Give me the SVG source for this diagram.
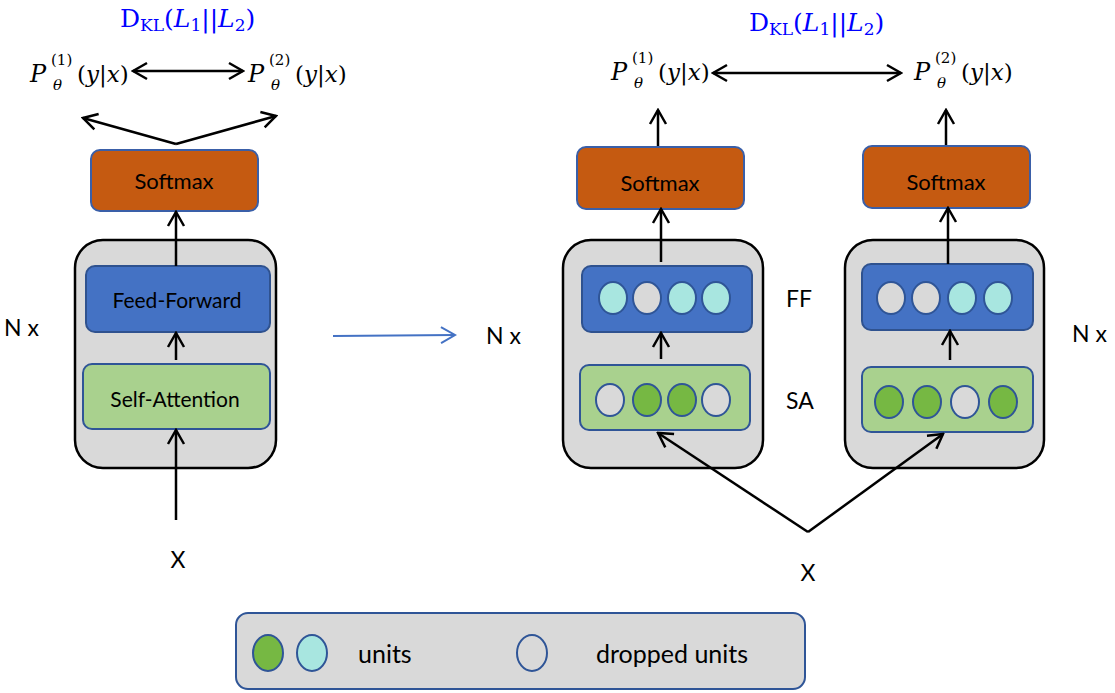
<svg xmlns="http://www.w3.org/2000/svg" width="1115" height="693" viewBox="0 0 1115 693">
<defs>
<marker id="ah" viewBox="0 0 20 20" refX="18" refY="10" markerWidth="20" markerHeight="20" markerUnits="userSpaceOnUse" orient="auto-start-reverse">
<path d="M4,2 L18,10 L4,18" fill="none" stroke="#000" stroke-width="2.5"/>
</marker>
<marker id="ahb" viewBox="0 0 20 20" refX="18" refY="10" markerWidth="20" markerHeight="20" markerUnits="userSpaceOnUse" orient="auto">
<path d="M4,2 L18,10 L4,18" fill="none" stroke="#4472C4" stroke-width="2"/>
</marker>
</defs>
<style>
.outer{fill:#D9D9D9;stroke:#000;stroke-width:2.5}
.sm{fill:#C55A11;stroke:#3A5FA8;stroke-width:2}
.ff{fill:#4472C4;stroke:#2F528F;stroke-width:2}
.sa{fill:#A9D18E;stroke:#2F5597;stroke-width:2}
.u{stroke:#2F5597;stroke-width:2}
.g{fill:#76B843}
.c{fill:#A8E6E0}
.d{fill:#D9D9D9}
.lbl{font-family:Lato,"Liberation Sans",sans-serif;fill:#000}
.m{font-family:"DejaVu Serif",serif;fill:#000}
.i{font-style:italic}
.bl{fill:#0000FF}
.ln{stroke:#000;stroke-width:2.5;fill:none}
</style>

<g id="math-left">
<text class="m i" x="30" y="82" font-size="24">P</text>
<text class="m" x="51" y="65" font-size="15">(1)</text>
<text class="m i" x="53" y="90" font-size="15">θ</text>
<text class="m" x="77" y="82" font-size="23">(<tspan class="i">y</tspan>|<tspan class="i">x</tspan>)</text>
<text class="m i" x="248" y="82" font-size="24">P</text>
<text class="m" x="269" y="65" font-size="15">(2)</text>
<text class="m i" x="271" y="90" font-size="15">θ</text>
<text class="m" x="295" y="82" font-size="23">(<tspan class="i">y</tspan>|<tspan class="i">x</tspan>)</text>
<text class="m bl" x="120" y="27" font-size="25">D<tspan font-size="17" dy="4">KL</tspan><tspan dy="-4">(</tspan><tspan class="i">L</tspan><tspan font-size="17" dy="4">1</tspan><tspan dy="-4">||</tspan><tspan class="i">L</tspan><tspan font-size="17" dy="4">2</tspan><tspan dy="-4">)</tspan></text>
</g>

<g id="math-right">
<text class="m i" x="611" y="80" font-size="24">P</text>
<text class="m" x="632" y="63" font-size="15">(1)</text>
<text class="m i" x="634" y="88" font-size="15">θ</text>
<text class="m" x="658" y="80" font-size="23">(<tspan class="i">y</tspan>|<tspan class="i">x</tspan>)</text>
<text class="m i" x="914" y="80" font-size="24">P</text>
<text class="m" x="935" y="63" font-size="15">(2)</text>
<text class="m i" x="937" y="88" font-size="15">θ</text>
<text class="m" x="961" y="80" font-size="23">(<tspan class="i">y</tspan>|<tspan class="i">x</tspan>)</text>
<text class="m bl" x="749" y="31" font-size="25">D<tspan font-size="17" dy="4">KL</tspan><tspan dy="-4">(</tspan><tspan class="i">L</tspan><tspan font-size="17" dy="4">1</tspan><tspan dy="-4">||</tspan><tspan class="i">L</tspan><tspan font-size="17" dy="4">2</tspan><tspan dy="-4">)</tspan></text>
</g>

<g id="left-model">
<rect class="sm" x="91" y="150" width="167" height="61" rx="9"/>
<text class="lbl" x="174" y="189" font-size="22" text-anchor="middle">Softmax</text>
<rect class="outer" x="75" y="240" width="201" height="228" rx="28"/>
<rect class="ff" x="86" y="266" width="184" height="66" rx="9"/>
<text class="lbl" x="177" y="308" font-size="21" text-anchor="middle">Feed-Forward</text>
<rect class="sa" x="83" y="364" width="187" height="65" rx="9"/>
<text class="lbl" x="175" y="407" font-size="21" text-anchor="middle">Self-Attention</text>
</g>

<g id="col1">
<rect class="sm" x="577" y="147" width="167" height="62" rx="9"/>
<text class="lbl" x="660" y="191" font-size="22" text-anchor="middle">Softmax</text>
<rect class="outer" x="563" y="240" width="200" height="228" rx="28"/>
<rect class="ff" x="582" y="266" width="170" height="66" rx="9"/>
<ellipse class="u c" cx="613" cy="298" rx="14" ry="16"/>
<ellipse class="u d" cx="647" cy="298" rx="14" ry="16"/>
<ellipse class="u c" cx="682" cy="298" rx="14" ry="16"/>
<ellipse class="u c" cx="716" cy="298" rx="14" ry="16"/>
<rect class="sa" x="580" y="365" width="170" height="65" rx="9"/>
<ellipse class="u d" cx="610" cy="400" rx="14" ry="16"/>
<ellipse class="u g" cx="647" cy="400" rx="14" ry="16"/>
<ellipse class="u g" cx="682" cy="400" rx="14" ry="16"/>
<ellipse class="u d" cx="716" cy="400" rx="14" ry="16"/>
</g>

<g id="col2">
<rect class="sm" x="863" y="146" width="167" height="62" rx="9"/>
<text class="lbl" x="946" y="190" font-size="22" text-anchor="middle">Softmax</text>
<rect class="outer" x="845" y="240" width="199" height="228" rx="28"/>
<rect class="ff" x="862" y="264" width="171" height="66" rx="9"/>
<ellipse class="u d" cx="891" cy="298" rx="14" ry="16"/>
<ellipse class="u d" cx="926" cy="298" rx="14" ry="16"/>
<ellipse class="u c" cx="962" cy="298" rx="14" ry="16"/>
<ellipse class="u c" cx="998" cy="298" rx="14" ry="16"/>
<rect class="sa" x="862" y="367" width="171" height="65" rx="9"/>
<ellipse class="u g" cx="889" cy="402" rx="14" ry="16"/>
<ellipse class="u g" cx="927" cy="402" rx="14" ry="16"/>
<ellipse class="u d" cx="965" cy="402" rx="14" ry="16"/>
<ellipse class="u g" cx="1003" cy="402" rx="14" ry="16"/>
</g>

<g id="labels">
<text class="lbl" x="4" y="336" font-size="23">N x</text>
<text class="lbl" x="486" y="344" font-size="23">N x</text>
<text class="lbl" x="1072" y="342" font-size="23">N x</text>
<text class="lbl" x="786" y="307" font-size="23">FF</text>
<text class="lbl" x="786" y="409" font-size="23">SA</text>
<text class="lbl" x="178" y="568" font-size="23" text-anchor="middle">X</text>
<text class="lbl" x="808" y="581" font-size="23" text-anchor="middle">X</text>
</g>

<g id="connectors">
<line class="ln" x1="133" y1="71" x2="243" y2="71" marker-start="url(#ah)" marker-end="url(#ah)"/>
<line class="ln" x1="713" y1="73" x2="901" y2="73" marker-start="url(#ah)" marker-end="url(#ah)"/>
<polyline class="ln" points="83,118 176,144" marker-start="url(#ah)"/>
<polyline class="ln" points="176,144 276,116" marker-end="url(#ah)"/>
<line class="ln" x1="176" y1="266" x2="176" y2="212" marker-end="url(#ah)"/>
<line class="ln" x1="176" y1="360" x2="176" y2="333" marker-end="url(#ah)"/>
<line class="ln" x1="176" y1="520" x2="176" y2="430" marker-end="url(#ah)"/>
<line class="ln" x1="658" y1="146" x2="658" y2="110" marker-end="url(#ah)"/>
<line class="ln" x1="946" y1="145" x2="946" y2="110" marker-end="url(#ah)"/>
<line class="ln" x1="661" y1="262" x2="661" y2="209" marker-end="url(#ah)"/>
<line class="ln" x1="948" y1="264" x2="948" y2="208" marker-end="url(#ah)"/>
<line class="ln" x1="661" y1="359" x2="661" y2="333" marker-end="url(#ah)"/>
<line class="ln" x1="950" y1="360" x2="950" y2="331" marker-end="url(#ah)"/>
<line class="ln" x1="808" y1="532" x2="658" y2="433" marker-end="url(#ah)"/>
<line class="ln" x1="808" y1="532" x2="943" y2="434" marker-end="url(#ah)"/>
<line x1="333" y1="336" x2="455" y2="335" stroke="#4472C4" stroke-width="2" marker-end="url(#ahb)"/>
</g>

<g id="legend">
<rect x="236" y="613" width="569" height="76" rx="12" fill="#D9D9D9" stroke="#2F5597" stroke-width="2"/>
<ellipse class="u g" cx="268" cy="653" rx="15" ry="18"/>
<ellipse class="u c" cx="312" cy="653" rx="15" ry="18"/>
<text class="lbl" x="358" y="663" font-size="25">units</text>
<ellipse class="u d" cx="532" cy="653" rx="15" ry="18"/>
<text class="lbl" x="596" y="663" font-size="25">dropped units</text>
</g>
</svg>
